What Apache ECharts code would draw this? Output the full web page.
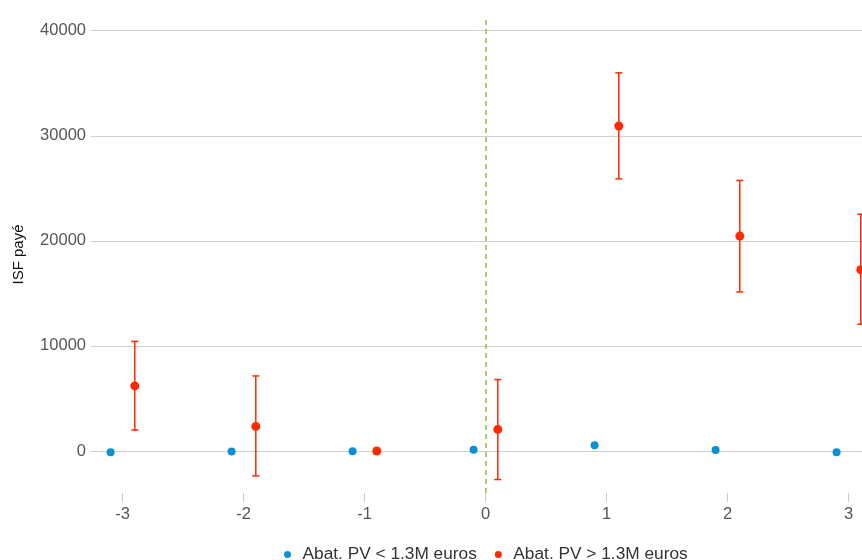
<!DOCTYPE html>
<html>
<head>
<meta charset="utf-8">
<script src="https://cdn.jsdelivr.net/npm/echarts@6/dist/echarts.min.js"></script>
<style>html,body{margin:0;padding:0;background:#fff}#c{width:862px;height:560px}</style>
</head>
<body>
<div id="c"></div>
<script>
// Data
const xCategories = [-3, -2, -1, 0, 1, 2, 3];
const xTickLabels = [-3, -2, -1, 0, 1, 2, 3];
const yTickLabels = [0, 10000, 20000, 30000, 40000];
const seriesNames = ['Abat. PV < 1.3M euros', 'Abat. PV > 1.3M euros'];
const dodge = 0.1;
const lowValues = [-120, -60, -30, 120, 540, 95, -120];
const highValues = [6190, 2340, 0, 2050, 30930, 20450, 17250];
const highLower = [1990, -2370, 0, -2720, 25900, 15140, 12070];
const highUpper = [10430, 7140, 0, 6800, 35990, 25750, 22530];
const cutoff = 0;

const blue = '#0b8fd6';
const red = '#ff2a00';
const font = "'Liberation Sans', Arial, sans-serif";

const lowData = xCategories.map((x, i) => [x - dodge, lowValues[i]]);
const highData = xCategories.map((x, i) => [x + dodge, highValues[i]]);
const errData = xCategories.map((x, i) => [x + dodge, highLower[i], highUpper[i]])
  .filter(d => d[1] !== d[2]);

const chart = echarts.init(document.getElementById('c'));
chart.setOption({
  animation: false,
  textStyle: { fontFamily: font },
  grid: { left: 91, right: 0, top: 16, bottom: 67 },
  legend: {
    top: 541,
    left: 279,
    icon: 'circle',
    itemWidth: 20,
    itemHeight: 7,
    itemGap: 18,
    symbolKeepAspect: true,
    textStyle: { fontSize: 17.3, color: '#333', fontFamily: font },
    data: seriesNames
  },
  xAxis: {
    type: 'value',
    min: -3.262,
    max: 3.11,
    axisLine: { show: false, onZero: false },
    axisTick: { show: true, length: 9, lineStyle: { color: '#ccc' }, customValues: xTickLabels },
    axisLabel: { fontSize: 16.5, color: '#555', margin: 13, customValues: xTickLabels, fontFamily: font },
    splitLine: { show: false }
  },
  yAxis: {
    type: 'value',
    min: -4000,
    max: 41400,
    name: 'ISF payé',
    nameLocation: 'middle',
    nameGap: 65,
    nameTextStyle: { fontSize: 15, color: '#111', fontFamily: font },
    axisLine: { show: false },
    axisTick: { show: false, customValues: yTickLabels },
    axisLabel: { fontSize: 16.5, color: '#555', margin: 5, customValues: yTickLabels, fontFamily: font,
      formatter: v => String(v) },
    splitLine: { show: true, lineStyle: { color: '#d0d0d0', width: 1 } }
  },
  series: [
    {
      name: seriesNames[0],
      type: 'scatter',
      symbolSize: 8,
      itemStyle: { color: blue, opacity: 1 },
      data: lowData,
      z: 5,
      markLine: {
        silent: true,
        symbol: 'none',
        label: { show: false },
        lineStyle: { color: '#8dbf4f', type: [5, 4], width: 1.5 },
        data: [{ xAxis: cutoff }]
      }
    },
    {
      name: seriesNames[1],
      type: 'custom',
      data: errData,
      z: 3,
      renderItem: function (params, api) {
        const x = api.value(0);
        const top = api.coord([x, api.value(2)]);
        const bot = api.coord([x, api.value(1)]);
        const w = 3.5;
        const st = { stroke: red, lineWidth: 1.5 };
        return {
          type: 'group',
          children: [
            { type: 'line', shape: { x1: top[0], y1: top[1], x2: bot[0], y2: bot[1] }, style: st },
            { type: 'line', shape: { x1: top[0] - w, y1: top[1], x2: top[0] + w, y2: top[1] }, style: st },
            { type: 'line', shape: { x1: bot[0] - w, y1: bot[1], x2: bot[0] + w, y2: bot[1] }, style: st }
          ]
        };
      },
      itemStyle: { color: red }
    },
    {
      name: seriesNames[1],
      type: 'scatter',
      symbolSize: 9,
      itemStyle: { color: red, opacity: 1 },
      data: highData,
      clip: false,
      z: 5
    }
  ]
});
</script>
</body>
</html>
